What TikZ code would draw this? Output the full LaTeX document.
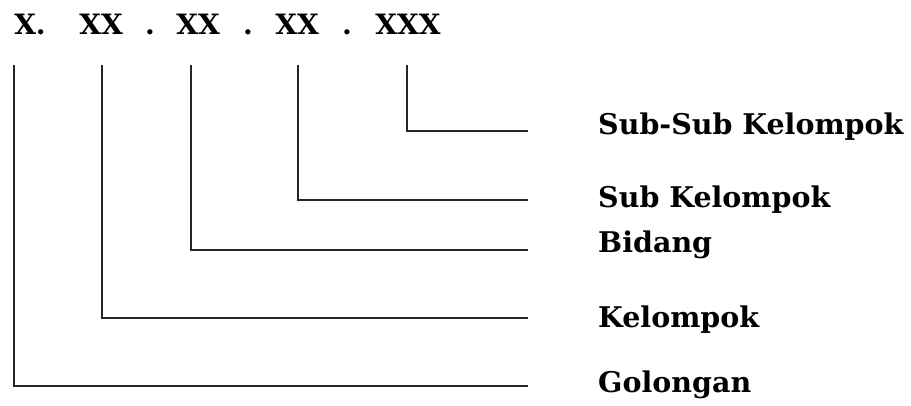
\documentclass[tikz,border=0pt]{standalone}
\usepackage{fontspec}
\setmainfont{DejaVu Serif}
\begin{document}
\begin{tikzpicture}[x=1pt,y=-1pt,
  code/.style={font=\fontsize{28}{28}\selectfont\bfseries, inner sep=0pt, anchor=base},
  lab/.style={font=\fontsize{28.5}{28.5}\selectfont\bfseries, inner sep=0pt, anchor=west},
  conn/.style={line width=2.2pt, draw=black!85}]
\useasboundingbox (0,0) rectangle (911,406);
% code parts
\node[code] (c1) at (30,35) {X.};
\node[code] (c2) at (101,35) {XX};
\node[code] (d1) at (150,35) {.};
\node[code] (c3) at (198,35) {XX};
\node[code] (d2) at (248,35) {.};
\node[code] (c4) at (297,35) {XX};
\node[code] (d3) at (347,35) {.};
\node[code] (c5) at (408,35) {XXX};
% line tops
\coordinate (t1) at (14,65);
\coordinate (t2) at (102,65);
\coordinate (t3) at (191,65);
\coordinate (t4) at (298,65);
\coordinate (t5) at (407,65);
% line ends
\coordinate (e5) at (528,131);
\coordinate (e4) at (528,200);
\coordinate (e3) at (528,250);
\coordinate (e2) at (528,318);
\coordinate (e1) at (528,386);
% labels
\node[lab] (l5) at (598,127) {Sub-Sub Kelompok};
\node[lab] (l4) at (598,200) {Sub Kelompok};
\node[lab] (l3) at (598,245) {Bidang};
\node[lab] (l2) at (598,320) {Kelompok};
\node[lab] (l1) at (598,385) {Golongan};
% connectors
\draw[conn] (t5) |- (e5);
\draw[conn] (t4) |- (e4);
\draw[conn] (t3) |- (e3);
\draw[conn] (t2) |- (e2);
\draw[conn] (t1) |- (e1);
\end{tikzpicture}
\end{document}
